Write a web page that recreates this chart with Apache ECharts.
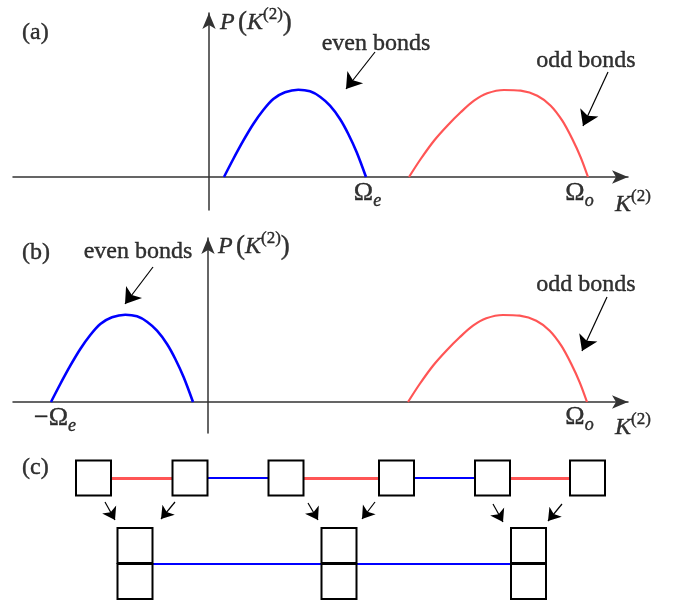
<!DOCTYPE html>
<html>
<head>
<meta charset="utf-8">
<script src="https://cdn.jsdelivr.net/npm/echarts@6/dist/echarts.min.js"></script>
<style>
  html, body { margin: 0; padding: 0; background: #fff; }
  #chart { width: 696px; height: 606px; }
</style>
</head>
<body>
<div id="chart"></div>
<script>
// P(K2) curves, x along the K2 axis (0 = vertical axis), y = P
const evenA = [[0.15,0],[0.243,0.18],[0.343,0.363],[0.443,0.53],[0.543,0.67],[0.643,0.78],[0.76,0.847],[0.893,0.873],[1.01,0.857],[1.11,0.803],[1.21,0.713],[1.31,0.58],[1.393,0.43],[1.477,0.247],[1.57,0]];
const oddA = [[2.0,0],[2.117,0.18],[2.25,0.363],[2.383,0.513],[2.517,0.647],[2.65,0.763],[2.783,0.837],[2.95,0.87],[3.117,0.863],[3.283,0.813],[3.417,0.713],[3.533,0.563],[3.633,0.38],[3.717,0.197],[3.79,0]];
const evenB = [[-1.57,0],[-1.477,0.18],[-1.377,0.363],[-1.277,0.53],[-1.177,0.67],[-1.077,0.78],[-0.96,0.847],[-0.827,0.873],[-0.71,0.857],[-0.61,0.803],[-0.51,0.713],[-0.41,0.58],[-0.327,0.43],[-0.243,0.247],[-0.15,0]];
const oddB = [[2.0,0],[2.117,0.18],[2.25,0.363],[2.383,0.513],[2.517,0.647],[2.65,0.763],[2.783,0.837],[2.95,0.87],[3.117,0.863],[3.283,0.813],[3.417,0.713],[3.533,0.563],[3.633,0.38],[3.717,0.197],[3.79,0]];

// annotation arrows [from, to]
const arrowsA = [[[1.66,1.25],[1.37,0.88]], [[3.99,1.05],[3.74,0.51]]];
const arrowsB = [[[-0.55,1.35],[-0.83,0.98]], [[3.99,1.05],[3.74,0.51]]];

// texts [x, y, text, anchor]
const textsA = [
  [-1.87, 1.44, '{t|(a)}', 'left'],
  [0.11, 1.54, '{i|P} {p|(}{i|K}{sup|(2)}{p|)}', 'left'],
  [1.67, 1.335, '{t|even bonds}', 'center'],
  [3.77, 1.16, '{t|odd bonds}', 'center'],
  [1.585, -0.16, '{o|Ω}{sub|e}', 'center'],
  [3.705, -0.16, '{o|Ω}{sub|o}', 'center'],
  [4.06, -0.28, '{i|K}{sup|(2)}', 'left']
];
const textsB = [
  [-1.86, 1.49, '{t|(b)}', 'left'],
  [0.10, 1.55, '{i|P} {p|(}{i|K}{sup|(2)}{p|)}', 'left'],
  [-0.70, 1.50, '{t|even bonds}', 'center'],
  [3.78, 1.17, '{t|odd bonds}', 'center'],
  [-1.53, -0.16, '{o|−Ω}{sub|e}', 'center'],
  [3.715, -0.15, '{o|Ω}{sub|o}', 'center'],
  [4.07, -0.26, '{i|K}{sup|(2)}', 'left']
];

// panel (c): chain of sites and the merged pairs below
const topSites = [93.5, 190, 286, 396.5, 492.5, 587.5];
const bondKinds = ['odd', 'even', 'odd', 'even', 'odd'];
const pairSites = [135, 339, 528.5];
const topRow = 33, pairUpper = 100.5, pairLower = 136.5, pairBond = 118.5;
const mergeArrows = [
  [[105,57],[115,75]], [[175,57],[161,74]],
  [[308,58],[318,75]], [[375,57],[362,74]],
  [[493,59],[503,77]], [[562,59],[548,76]]
];
const textsC = [[22, 23, '{t|(c)}', 'left']];

const FONT = 'Liberation Serif';
const BLUE = '#0000ff', RED = '#ff5555';
const ink = { color: '#000', textBorderColor: '#000', textBorderWidth: 0.4 };
const rich = {
  t: Object.assign({ fontFamily: FONT, fontSize: 24, lineHeight: 34 }, ink),
  o: Object.assign({ fontFamily: FONT, fontSize: 26, lineHeight: 34 }, ink),
  i: Object.assign({ fontFamily: FONT, fontSize: 24, fontStyle: 'italic', lineHeight: 34 }, ink),
  p: Object.assign({ fontFamily: FONT, fontSize: 27, lineHeight: 34 }, ink),
  sup: Object.assign({ fontFamily: FONT, fontSize: 17, lineHeight: 17, verticalAlign: 'top' }, ink),
  sub: Object.assign({ fontFamily: FONT, fontSize: 18, fontStyle: 'italic', lineHeight: 17, verticalAlign: 'bottom' }, ink)
};

function plotAxes(grid, min, max, ymin, ymax) {
  const line = { onZero: true, symbol: ['none', 'arrow'], symbolSize: [10, 16],
                 lineStyle: { color: '#333', width: 1.5 } };
  return {
    x: { type: 'value', gridIndex: grid, min: min, max: max, axisLine: line,
         axisTick: { show: false }, axisLabel: { show: false }, splitLine: { show: false } },
    y: { type: 'value', gridIndex: grid, min: ymin, max: ymax, axisLine: line,
         axisTick: { show: false }, axisLabel: { show: false }, splitLine: { show: false } }
  };
}
const axA = plotAxes(0, -1.96, 4.19, -0.33, 1.64);
const axB = plotAxes(1, -1.95, 4.20, -0.31, 1.64);

function curve(idx, data, color, width) {
  return { type: 'line', xAxisIndex: idx, yAxisIndex: idx, data: data, smooth: 0.3,
           showSymbol: false, clip: false, silent: true,
           lineStyle: { color: color, width: width } };
}
function arrows(idx, list, size, width) {
  return { type: 'lines', coordinateSystem: 'cartesian2d', xAxisIndex: idx, yAxisIndex: idx,
           data: list.map(a => ({ coords: a })), symbol: ['none', 'arrow'], symbolSize: size,
           itemStyle: { color: '#000' },
           lineStyle: { color: '#000', width: width, opacity: 1 }, silent: true, z: 4 };
}
function texts(idx, list) {
  return { type: 'scatter', xAxisIndex: idx, yAxisIndex: idx, symbolSize: 1, clip: false, silent: true,
           itemStyle: { color: 'rgba(0,0,0,0)' }, z: 5,
           data: list.map(t => ({ value: [t[0], t[1]], name: t[2],
             label: { show: true, position: 'inside', align: t[3], verticalAlign: 'middle',
                      color: '#000', formatter: p => p.name, rich: rich } })) };
}

const bonds = bondKinds.map((k, i) => ({
  coords: [[topSites[i], topRow], [topSites[i + 1], topRow]],
  lineStyle: { color: k === 'odd' ? RED : BLUE, width: k === 'odd' ? 3 : 2, opacity: 1 }
}));
bonds.push({ coords: [[pairSites[0], pairBond], [pairSites[2], pairBond]],
             lineStyle: { color: BLUE, width: 2, opacity: 1 } });

const boxes = topSites.map(x => [x, topRow])
  .concat(pairSites.map(x => [x, pairUpper]))
  .concat(pairSites.map(x => [x, pairLower]));

const option = {
  animation: false,
  backgroundColor: '#fff',
  grid: [
    { left: 13, right: 68, top: 13, height: 197 },
    { left: 13, right: 68, top: 238, height: 195 },
    { left: 0, right: 0, top: 445, bottom: 0 }
  ],
  xAxis: [axA.x, axB.x, { type: 'value', gridIndex: 2, min: 0, max: 696, show: false }],
  yAxis: [axA.y, axB.y, { type: 'value', gridIndex: 2, min: 0, max: 161, inverse: true, show: false }],
  series: [
    curve(0, evenA, BLUE, 2.6),
    curve(0, oddA, RED, 2.2),
    curve(1, evenB, BLUE, 2.6),
    curve(1, oddB, RED, 2.2),
    arrows(0, arrowsA, [10, 15], 1.2),
    arrows(1, arrowsB, [10, 15], 1.2),
    texts(0, textsA),
    texts(1, textsB),
    { type: 'lines', coordinateSystem: 'cartesian2d', xAxisIndex: 2, yAxisIndex: 2,
      data: bonds, silent: true, z: 2, lineStyle: { opacity: 1 } },
    { type: 'scatter', xAxisIndex: 2, yAxisIndex: 2, data: boxes, symbol: 'rect', symbolSize: 35,
      silent: true, z: 3, itemStyle: { color: '#fff', borderColor: '#000', borderWidth: 2, opacity: 1 } },
    arrows(2, mergeArrows, [8, 12], 1.2),
    texts(2, textsC)
  ]
};

const chart = echarts.init(document.getElementById('chart'), null, { renderer: 'canvas' });
chart.setOption(option);
</script>
</body>
</html>
